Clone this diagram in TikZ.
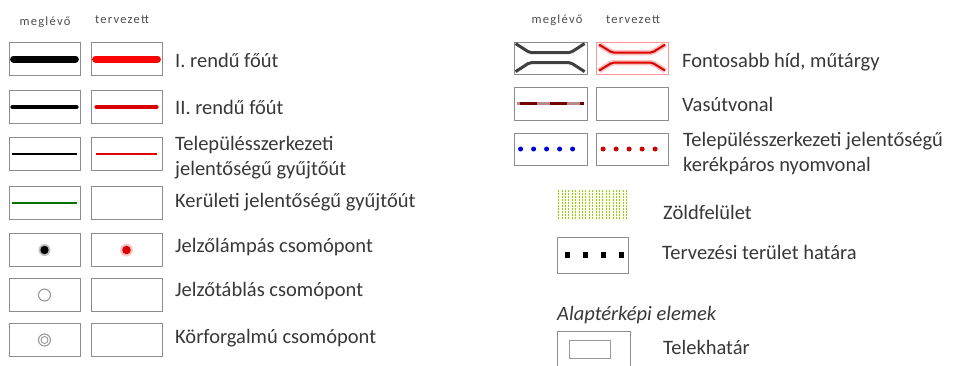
\documentclass[tikz,border=0pt]{standalone}
\usepackage{fontspec}
\setmainfont{Carlito}
\begin{document}
\begin{tikzpicture}[x=1pt,y=-1pt,
  box/.style={draw=black!45, line width=0.8pt, minimum width=71pt, minimum height=33pt, inner sep=0pt},
  lbl/.style={anchor=west, inner sep=0pt, text=black!78, font=\fontsize{20.5}{25}\selectfont, align=left},
  hdr/.style={inner sep=0pt, text=black!70, font=\fontsize{12.5}{14}\selectfont\addfontfeatures{LetterSpace=10}},
  hatch/.style={draw=green!40!yellow!75!black!80, line width=1pt, dash pattern=on 2pt off 1pt},
  road1/.style={line width=7pt, line cap=round},
  road2/.style={line width=4.5pt, line cap=round},
  road3/.style={line width=1.6pt},
]
\useasboundingbox (0,0) rectangle (968,365);
\fill[white] (0,0) rectangle (968,365);

% headers
\node[hdr] (hl1) at (45,22) {meglévő};
\node[hdr] (hl2) at (122,20) {tervezett};
\node[hdr] (hr1) at (557,20) {meglévő};
\node[hdr] (hr2) at (633,20) {tervezett};

% left column boxes
\node[box] (a1) at (44.5,59) {};  \node[box] (b1) at (126.5,59) {};
\node[box] (a2) at (44.5,107) {}; \node[box] (b2) at (126.5,107) {};
\node[box] (a3) at (44.5,154) {}; \node[box] (b3) at (126.5,154) {};
\node[box] (a4) at (44.5,203) {}; \node[box] (b4) at (126.5,203) {};
\node[box] (a5) at (44.5,250) {}; \node[box] (b5) at (126.5,250) {};
\node[box] (a6) at (44.5,295) {}; \node[box] (b6) at (126.5,295) {};
\node[box] (a7) at (44.5,340) {}; \node[box] (b7) at (126.5,340) {};

% left symbols
\draw[road1, black] ([xshift=5pt]a1.west) -- ([xshift=-5pt]a1.east);
\draw[road1, red] ([xshift=5pt]b1.west) -- ([xshift=-5pt]b1.east);
\draw[road2, black] ([xshift=4pt]a2.west) -- ([xshift=-4pt]a2.east);
\draw[road2, red!85!black] ([xshift=6pt]b2.west) -- ([xshift=-6pt]b2.east);
\draw[road3, black] ([xshift=3pt]a3.west) -- ([xshift=-3pt]a3.east);
\draw[road3, red!90!black] ([xshift=5pt]b3.west) -- ([xshift=-5pt]b3.east);
\draw[road3, green!45!black] ([xshift=3pt]a4.west) -- ([xshift=-3pt]a4.east);
\fill[black!25] (a5.center) circle (6pt);
\fill[black] (a5.center) circle (4.2pt);
\fill[red!22] (b5.center) circle (6.5pt);
\fill[red!85!black] (b5.center) circle (4.3pt);
\draw[black!40, line width=1.1pt] (a6.center) circle (6pt);
\draw[black!40, line width=1.1pt] (a7.center) circle (6pt);
\draw[black!40, line width=0.9pt] (a7.center) circle (3.5pt);

% left labels
\node[lbl] (t1) at (175,60) {I. rendű főút};
\node[lbl] (t2) at (175,107) {II. rendű főút};
\node[lbl] (t3) at (175,158) {Településszerkezeti\\jelentőségű gyűjtőút};
\node[lbl] (t4) at (175,202) {Kerületi jelentőségű gyűjtőút};
\node[lbl] (t5) at (175,247) {Jelzőlámpás csomópont};
\node[lbl] (t6) at (175,291) {Jelzőtáblás csomópont};
\node[lbl] (t7) at (175,338) {Körforgalmú csomópont};

% right column boxes
\node[box, minimum width=73pt, minimum height=32pt] (c1) at (550.5,58) {};
\node[box, minimum width=72pt, minimum height=32pt, draw=red!40] (d1) at (632.5,58) {};
\node[box, minimum width=73pt] (c2) at (550.5,103.5) {};
\node[box, minimum width=72pt] (d2) at (632.5,103.5) {};
\node[box, minimum width=73pt, minimum height=32pt] (c3) at (550.5,149) {};
\node[box, minimum width=72pt, minimum height=32pt] (d3) at (632.5,149) {};

% bridge symbols
\draw[black!75, line width=3pt, rounded corners=2pt]
  ([shift={(2,2)}]c1.north west) -- ([shift={(16,11)}]c1.north west) -- ([shift={(57,11)}]c1.north west) -- ([shift={(71,2)}]c1.north west);
\draw[black!75, line width=3pt, rounded corners=2pt]
  ([shift={(2,30)}]c1.north west) -- ([shift={(16,21)}]c1.north west) -- ([shift={(57,21)}]c1.north west) -- ([shift={(71,30)}]c1.north west);
\foreach \w/\c in {5.5pt/red!25, 2pt/red!85!black} {
\draw[\c, line width=\w, rounded corners=2pt]
  ([shift={(3,3)}]d1.north west) -- ([shift={(16,11)}]d1.north west) -- ([shift={(56,11)}]d1.north west) -- ([shift={(69,3)}]d1.north west);
\draw[\c, line width=\w, rounded corners=2pt]
  ([shift={(3,29)}]d1.north west) -- ([shift={(16,21)}]d1.north west) -- ([shift={(56,21)}]d1.north west) -- ([shift={(69,29)}]d1.north west);
}

% railway
\draw[red!35!black!45, line width=3pt] ([xshift=3pt]c2.west) -- ([xshift=-3pt]c2.east);
\draw[red!45!black, line width=2.4pt, dash pattern=on 17pt off 13pt, dash phase=-3pt] ([xshift=3pt]c2.west) -- ([xshift=-3pt]c2.east);

% bicycle dots
\foreach \i in {0,...,4} {
  \fill[blue!85!black] ([xshift=\i*13pt+7pt]c3.west) circle (2.5pt);
  \fill[red!80!black] ([xshift=\i*13pt+7pt]d3.west) circle (2.5pt);
}

% green area
\node[inner sep=0pt, minimum width=71pt, minimum height=30pt, fill=green!6!yellow!8,
  path picture={\foreach \i in {0,...,20} {\draw[hatch] ([xshift=\i*3.4pt+1.7pt]path picture bounding box.north west) -- ([xshift=\i*3.4pt+1.7pt]path picture bounding box.south west);}}]
  (zold) at (592.5,205) {};

% planning boundary
\node[box, minimum height=36pt] (terv) at (592.5,255) {};
\foreach \i in {0,...,3} {
  \fill[black] ([xshift=\i*18pt+11pt]terv.west) ++(-2.8pt,-2.8pt) rectangle ++(5.6pt,5.6pt);
}

% base map
\node[box, minimum width=73pt, minimum height=37pt] (telek) at (593.5,349.5) {};
\node[draw=black!40, line width=0.7pt, minimum width=41pt, minimum height=18pt, inner sep=0pt] (telekin) at (589.5,349) {};

% right labels
\node[lbl] (u1) at (682,62) {Fontosabb híd, műtárgy};
\node[lbl] (u2) at (682,104) {Vasútvonal};
\node[lbl] (u3) at (683,154) {Településszerkezeti jelentőségű\\kerékpáros nyomvonal};
\node[lbl] (u4) at (663,212) {Zöldfelület};
\node[lbl] (u5) at (662,252) {Tervezési terület határa};
\node[lbl, font=\fontsize{20.5}{25}\selectfont\itshape] (u6) at (557,315) {Alaptérképi elemek};
\node[lbl] (u7) at (663,347) {Telekhatár};
\end{tikzpicture}
\end{document}
